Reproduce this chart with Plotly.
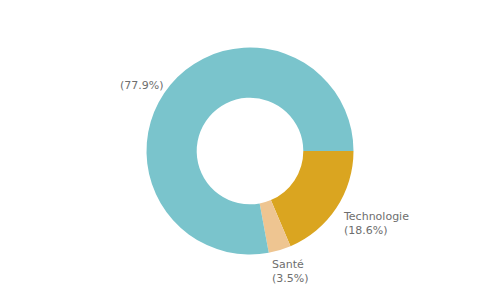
import math
import plotly.graph_objects as go

categories = ["Technologie", "Santé", ""]
values = [18.6, 3.5, 77.9]
colors = ["#DAA520", "#EEC591", "#7AC4CC"]

W, H = 500, 300
cx, cy, R = 250, 151, 103.5

fig = go.Figure(go.Pie(
    labels=categories, values=values, sort=False, direction="clockwise",
    rotation=90, hole=0.515, textinfo="none", hoverinfo="label+percent",
    marker=dict(colors=colors, line=dict(width=0)),
    domain=dict(x=[0, 1], y=[1 - (cy + R) / H, 1 - (cy - R) / H]),
    showlegend=False,
))

# label placement derived from slice mid-angles
total = sum(values)
anchors = [("left", -4, 5.5), ("left", -13, 4.5), ("right", 3, 1.5)]
annotations = []
cum = 0
for cat, v, (xa, xs, ys) in zip(categories, values, anchors):
    mid = (cum + v / 2) / total * 2 * math.pi
    cum += v
    r = 1.1 * R
    px = cx + r * math.cos(mid)
    py = cy + r * math.sin(mid)
    pct = f"({v / total * 100:.1f}%)"
    text = f"{cat}<br>{pct}" if cat else pct
    annotations.append(dict(
        x=px / W, y=1 - py / H, xref="paper", yref="paper",
        text=text, showarrow=False, xanchor=xa, yanchor="top",
        xshift=xs, yshift=ys,
        align="left", font=dict(family="DejaVu Sans", size=11, color="#6e6e6e"),
    ))

fig.update_layout(
    width=W, height=H, margin=dict(l=0, r=0, t=0, b=0),
    paper_bgcolor="white", plot_bgcolor="white",
    annotations=annotations,
)
fig.write_html("out.html")
